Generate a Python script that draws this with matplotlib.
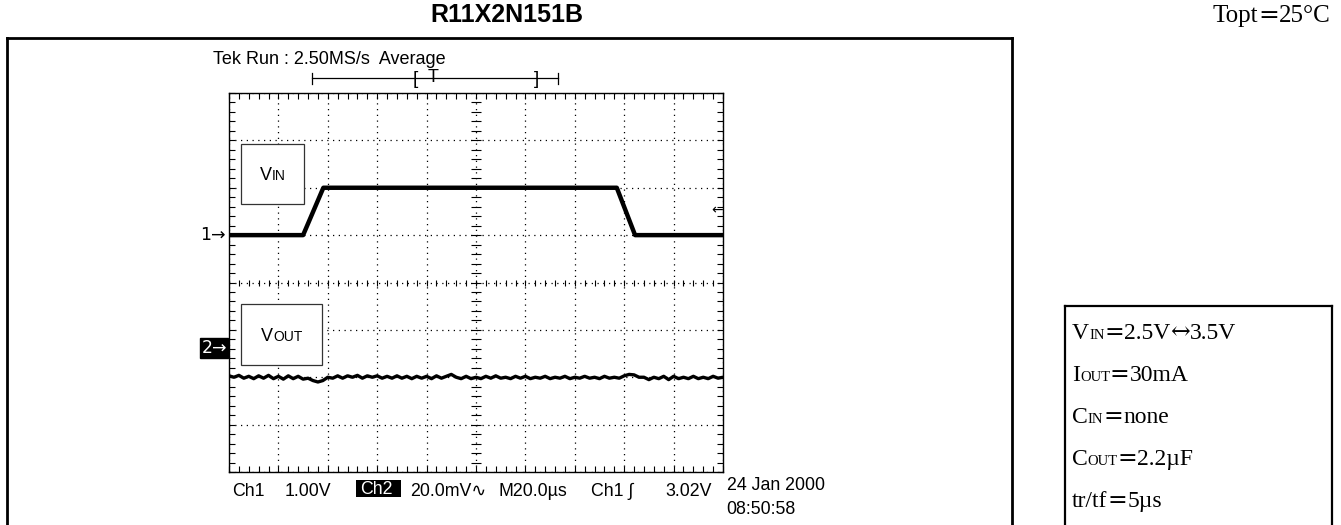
import numpy as np
import matplotlib.pyplot as plt
from matplotlib.lines import Line2D
from matplotlib.patches import Rectangle
from matplotlib.ticker import MultipleLocator
import matplotlib.transforms as mtransforms

W, H = 1341, 525
sans = ['Liberation Sans', 'DejaVu Sans']
serif = ['Liberation Serif', 'DejaVu Serif']
wide = ['DejaVu Serif']

# scope traces, in screen divisions (10 x 8)
vin_t = [0.0, 1.50, 1.91, 7.85, 8.22, 10.0]
vin_div = [5.0, 5.0, 6.0, 6.0, 5.0, 5.0]

vout_t = np.linspace(0, 10, 101)
vout_div = [
    2.03, 2.00, 2.04, 1.98, 2.02, 1.97, 2.03, 1.98, 2.04, 1.97,
    2.02, 1.96, 2.03, 1.97, 2.02, 1.96, 1.98, 1.93, 1.90, 1.93,
    2.00, 1.98, 2.03, 1.98, 2.03, 2.00, 2.04, 1.98, 2.03, 2.00,
    2.03, 1.98, 2.02, 1.98, 2.03, 1.98, 2.02, 1.97, 2.02, 1.98,
    2.02, 1.97, 2.03, 1.98, 2.02, 2.06, 2.00, 1.97, 2.02, 1.97,
    2.00, 1.97, 2.02, 1.98, 2.03, 1.98, 2.00, 1.97, 2.02, 1.98,
    2.02, 1.97, 2.00, 1.98, 2.02, 1.97, 2.00, 1.98, 2.02, 1.97,
    2.00, 1.98, 2.02, 1.98, 2.00, 1.97, 2.02, 1.98, 2.00, 1.98,
    2.03, 2.06, 2.05, 2.00, 2.00, 1.95, 2.00, 1.97, 2.02, 1.95,
    2.02, 1.97, 2.00, 1.97, 2.02, 1.97, 2.00, 1.97, 2.02, 1.98, 2.00,
]

ch1_ref = 5.0
ch2_ref = 2.61
trig_level = 5.53
record_window = [1.68, 6.66]
trig_brackets = [3.78, 6.23]
trig_pos = 4.14

# (text, style) pieces: 'b' body, 's' small caps suffix, 'w' wide symbol
conditions = [
    [('V', 'b'), ('IN', 's'), ('=', 'w'), ('2.5V', 'b'), ('↔', 'w'), ('3.5V', 'b')],
    [('I', 'b'), ('OUT', 's'), ('=', 'w'), ('30mA', 'b')],
    [('C', 'b'), ('IN', 's'), ('=', 'w'), ('none', 'b')],
    [('C', 'b'), ('OUT', 's'), ('=', 'w'), ('2.2µF', 'b')],
    [('tr/tf', 'b'), ('=', 'w'), ('5µs', 'b')],
]
temp_label = [('Topt', 'b'), ('=', 'w'), ('25°C', 'b')]


def px(x, y):
    return x / W, 1 - y / H


fig = plt.figure(figsize=(W / 100, H / 100), dpi=100)
renderer = fig.canvas.get_renderer()
ident = mtransforms.IdentityTransform()


def rich(xd, yd, parts, ha='left', **kw):
    # pieces of text on one baseline, in display pixels
    texts = []
    x = xd
    for txt, size, family in parts:
        t = fig.text(x, yd, txt, transform=ident, fontsize=size, family=family,
                     ha='left', va='baseline', **kw)
        x += t.get_window_extent(renderer).width
        texts.append(t)
    shift = {'left': 0, 'center': (x - xd) / 2, 'right': x - xd}[ha]
    for t in texts:
        t.set_x(t.get_position()[0] - shift)
    return texts


# outer frame (open at the bottom) and the conditions box
for (x0, y0), (x1, y1) in [((6.7, 525), (6.7, 37.7)), ((6.7, 37.7), (1012, 37.7)),
                           ((1012, 37.7), (1012, 525))]:
    a, b = px(x0, y0), px(x1, y1)
    fig.add_artist(Line2D([a[0], b[0]], [a[1], b[1]], color='black', lw=2.0,
                          solid_capstyle='projecting'))
for (x0, y0), (x1, y1) in [((1065, 525), (1065, 306)), ((1065, 306), (1332, 306)),
                           ((1332, 306), (1332, 525))]:
    a, b = px(x0, y0), px(x1, y1)
    fig.add_artist(Line2D([a[0], b[0]], [a[1], b[1]], color='black', lw=1.6,
                          solid_capstyle='projecting'))

fig.text(*px(507, 15), 'R11X2N151B', ha='center', va='center', fontsize=18,
         fontweight='bold', family=sans)
fig.text(*px(213, 59), 'Tek Run : 2.50MS/s  Average', ha='left', va='center',
         fontsize=13, family=sans)

styles = {'b': (17, serif), 's': (10.5, serif), 'w': (17, wide)}
rich(1331, H - 22, [(t, 18 if k != 's' else 11, styles[k][1]) for t, k in temp_label],
     ha='right')

# scope screen
l, b = px(229, 472)
ax = fig.add_axes([l, b, 494 / W, 379 / H])
ax.set_xlim(0, 10)
ax.set_ylim(0, 8)
for s in ax.spines.values():
    s.set_linewidth(1.0)
ax.xaxis.set_major_locator(MultipleLocator(1))
ax.yaxis.set_major_locator(MultipleLocator(1))
ax.xaxis.set_minor_locator(MultipleLocator(0.2))
ax.yaxis.set_minor_locator(MultipleLocator(0.2))
ax.tick_params(which='both', direction='in', length=4, width=0.8, top=True, right=True,
               labelbottom=False, labelleft=False)
ax.grid(which='major', color='black', linestyle=(0, (1, 3.6)), linewidth=0.9)

minor = np.arange(0, 10.01, 0.2)
ax.plot(minor, np.full(len(minor), 4.0), 'k|', ms=5, mew=0.8)
minor_y = np.arange(0, 8.01, 0.2)
ax.plot(np.full(len(minor_y), 5.0), minor_y, 'k_', ms=7, mew=0.8)

ax.plot(vin_t, vin_div, color='black', lw=3.2, solid_joinstyle='round')
ax.plot(vout_t, vout_div, color='black', lw=2.4, solid_joinstyle='round')

bt = mtransforms.blended_transform_factory(ax.transAxes, ax.transData)
ax.text(-0.006, ch1_ref, '1→', transform=bt, ha='right', va='center', fontsize=12.5,
        family=['DejaVu Sans'])
ax.text(-0.004, ch2_ref, '2→', transform=bt, ha='right', va='center', fontsize=12.5,
        family=['DejaVu Sans'], color='white',
        bbox=dict(boxstyle='square,pad=0.06', fc='black', ec='black'))
ax.text(9.99, trig_level, '←', ha='right', va='center', fontsize=10,
        family=['DejaVu Sans'])

# record window / trigger marker above the screen
ax.plot(record_window, [8.31, 8.31], color='black', lw=0.9, clip_on=False)
for xr in record_window:
    ax.plot([xr, xr], [8.19, 8.43], color='black', lw=0.9, clip_on=False)
ax.text(trig_brackets[0], 8.29, '[', ha='center', va='center', fontsize=13.5, family=sans)
ax.text(trig_brackets[1], 8.29, ']', ha='center', va='center', fontsize=13.5, family=sans)
ax.text(trig_pos, 8.32, 'T', ha='center', va='center', fontsize=13, family=sans)

# readout line
fs = 12.8
fig.text(*px(231.7, 491), 'Ch1', ha='left', va='center', fontsize=fs, family=sans)
fig.text(*px(285, 491), '1.00V', ha='left', va='center', fontsize=fs, family=sans)
rx, ry = px(356, 497.3)
fig.add_artist(Rectangle((rx, ry), 44.7 / W, 17.3 / H, transform=fig.transFigure,
                         fc='black', ec='none'))
fig.text(*px(360, 490), 'Ch2', ha='left', va='center', fontsize=fs, family=sans,
         color='white')
fig.text(*px(410, 491), '20.0mV∿', ha='left', va='center', fontsize=fs, family=sans)
fig.text(*px(498.3, 491), 'M20.0µs', ha='left', va='center', fontsize=fs, family=sans)
fig.text(*px(590.7, 491), 'Ch1 ∫', ha='left', va='center', fontsize=fs, family=sans)
fig.text(*px(711.7, 491), '3.02V', ha='right', va='center', fontsize=fs, family=sans)
fig.text(*px(726.7, 486), '24 Jan 2000', ha='left', va='center', fontsize=fs, family=sans)
fig.text(*px(726.7, 510), '08:50:58', ha='left', va='center', fontsize=fs, family=sans)

# channel label boxes inside the screen
for (x0, x1, y0, y1, lab) in [(0.24, 1.52, 5.65, 6.93, ('V', 'IN')),
                              (0.24, 1.89, 2.26, 3.54, ('V', 'OUT'))]:
    ax.add_patch(Rectangle((x0, y0), x1 - x0, y1 - y0, fill=True, fc='white',
                           ec='#333333', lw=0.9, zorder=3))
    cx, cy = ax.transData.transform(((x0 + x1) / 2, (y0 + y1) / 2))
    rich(cx, cy - 6.3, [(lab[0], 13, sans), (lab[1], 10, sans)], ha='center', zorder=4)

# conditions text, with small-cap suffixes
baselines = [339, 381, 423, 465, 507]
for parts, yb in zip(conditions, baselines):
    rich(1072, H - yb, [(t, *styles[k]) for t, k in parts])

fig.savefig('out.png', dpi=100)
